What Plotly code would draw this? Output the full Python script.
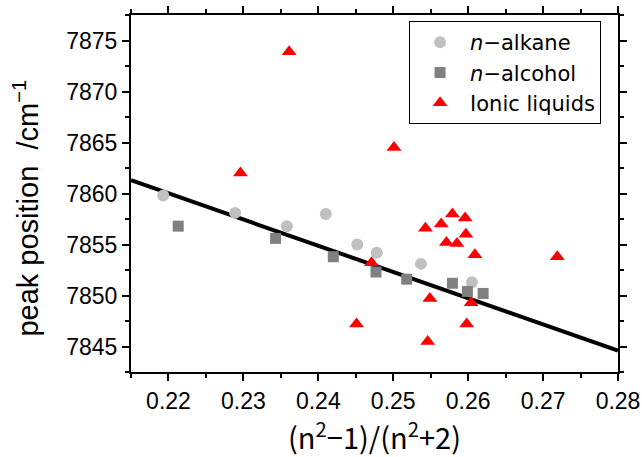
import plotly.graph_objects as go

# n-alkane
alkane_x = [0.2193, 0.2289, 0.2358, 0.2410, 0.2452, 0.2478, 0.2537, 0.2605]
alkane_y = [7859.8, 7858.1, 7856.8, 7858.0, 7855.0, 7854.2, 7853.1, 7851.3]

# n-alcohol
alcohol_x = [0.2213, 0.2343, 0.2420, 0.2477, 0.2518, 0.2579, 0.2599, 0.2620]
alcohol_y = [7856.8, 7855.6, 7853.8, 7852.3, 7851.6, 7851.2, 7850.4, 7850.2]

# Ionic liquids
il_x = [0.2361, 0.2296, 0.2501, 0.2471, 0.2451, 0.2543, 0.2564, 0.2579, 0.2596,
        0.2597, 0.2571, 0.2585, 0.2609, 0.2719, 0.2549, 0.2604, 0.2598, 0.2546]
il_y = [7873.9, 7862.0, 7864.5, 7853.2, 7847.2, 7856.6, 7857.0, 7858.0, 7857.6,
        7856.0, 7855.2, 7855.1, 7854.0, 7853.8, 7849.7, 7849.3, 7847.2, 7845.5]

# linear fit line
fit_x = [0.215, 0.28]
fit_y = [7861.3, 7844.6]

x_ticks = [0.22, 0.23, 0.24, 0.25, 0.26, 0.27, 0.28]
y_ticks = [7845, 7850, 7855, 7860, 7865, 7870, 7875]

fig = go.Figure()
fig.add_trace(go.Scatter(x=fit_x, y=fit_y, mode="lines",
                         line=dict(color="black", width=4), showlegend=False))
fig.add_trace(go.Scatter(x=alkane_x, y=alkane_y, mode="markers", name="<i>n</i>−alkane",
                         marker=dict(symbol="circle", size=12, color="#c0c0c0")))
fig.add_trace(go.Scatter(x=alcohol_x, y=alcohol_y, mode="markers", name="<i>n</i>−alcohol",
                         marker=dict(symbol="square", size=11, color="#808080")))
fig.add_trace(go.Scatter(x=il_x, y=il_y, mode="markers", name="Ionic liquids",
                         marker=dict(symbol="triangle-up", size=13, color="#ff0000")))

axis_common = dict(
    showline=True, linecolor="black", linewidth=2, mirror="allticks",
    ticks="outside", ticklen=7, tickwidth=1.5, tickcolor="black",
    showgrid=False, zeroline=False, automargin=False,
    tickfont=dict(family="Liberation Sans", size=23, color="black"),
)

fig.update_layout(
    width=642, height=457,
    margin=dict(l=131, r=24, t=15, b=85),
    paper_bgcolor="white", plot_bgcolor="white",
    xaxis=dict(range=[0.215, 0.28], tickvals=x_ticks,
               ticktext=[f"{v:.2f}" for v in x_ticks],
               minor=dict(dtick=0.005, tick0=0.215, ticks="outside", ticklen=4, tickcolor="black", tickwidth=1.5),
               title=dict(text="(n<sup>2</sup>−1)/(n<sup>2</sup>+2)",
                          font=dict(family="Noto Sans CJK JP", size=29, color="black"),
                          standoff=4),
               **axis_common),
    yaxis=dict(range=[7842.5, 7877.5], tickvals=y_ticks,
               ticktext=[str(v) for v in y_ticks],
               minor=dict(dtick=2.5, tick0=7842.5, ticks="outside", ticklen=4, tickcolor="black", tickwidth=1.5),
               **axis_common),
    legend=dict(x=0.571, y=0.983, xanchor="left", yanchor="top",
                bgcolor="white", bordercolor="black", borderwidth=1,
                font=dict(family="DejaVu Sans", size=21, color="black"),
                itemwidth=50, tracegroupgap=0),
    annotations=[dict(text="peak position&nbsp;&nbsp;/cm<sup>−1</sup>",
                      textangle=-90, xref="paper", yref="paper",
                      x=-0.216, y=0.46, xanchor="center", yanchor="middle",
                      showarrow=False,
                      font=dict(family="Liberation Sans", size=29, color="black"))],
)

fig.write_html("out.html", post_script="document.body.style.margin='0';",
               config={"displayModeBar": False})
